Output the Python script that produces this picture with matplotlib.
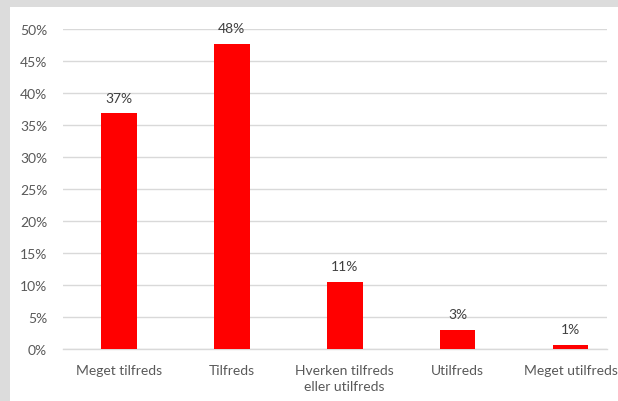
import matplotlib
matplotlib.use("Agg")
import matplotlib.pyplot as plt
from matplotlib.patches import Rectangle

categories = ["Meget tilfreds", "Tilfreds", "Hverken tilfreds\neller utilfreds", "Utilfreds", "Meget utilfreds"]
values = [36.8, 47.6, 10.4, 3.0, 0.7]
value_labels = ["37%", "48%", "11%", "3%", "1%"]
yticks = [0, 5, 10, 15, 20, 25, 30, 35, 40, 45, 50]
ytick_labels = [f"{t}%" for t in yticks]

plt.rcParams['font.family'] = ['Lato', 'DejaVu Sans']

W, H = 618, 402
fig = plt.figure(figsize=(W / 100, H / 100), dpi=100)
fig.patch.set_facecolor('#dcdcdc')
bg = Rectangle((10 / W, 0), 1 - 10 / W, (H - 8) / H, transform=fig.transFigure,
               facecolor='white', edgecolor='none', zorder=-10)
fig.add_artist(bg)

left_px, right_px = 62.5, 607
bottom_px, top_px = 350, 30
ax = fig.add_axes([left_px / W, (H - bottom_px) / H, (right_px - left_px) / W, (bottom_px - top_px) / H])
ax.set_facecolor('none')
ax.set_zorder(1)

cat_w = 112.9
x = list(range(len(categories)))
ax.bar(x, values, width=35.5 / cat_w, color='#ff0000', zorder=3)
ax.set_xlim(-0.5, -0.5 + (right_px - left_px) / cat_w)
ax.set_ylim(0, 50)

ax.set_yticks(yticks)
ax.set_yticklabels(ytick_labels)
ax.set_xticks(x)
ax.set_xticklabels(categories, linespacing=1.45)

ax.grid(axis='y', color='#d9d9d9', linewidth=1.0, zorder=0)
ax.set_axisbelow(True)
for s in ['top', 'right', 'left']:
    ax.spines[s].set_visible(False)
ax.spines['bottom'].set_color('#d9d9d9')
ax.spines['bottom'].set_linewidth(1.0)

ax.tick_params(axis='both', length=0, labelsize=10, labelcolor='#595959')
ax.tick_params(axis='y', pad=11)
ax.tick_params(axis='x', pad=10.5)
for lbl in ax.get_xticklabels():
    lbl.set_clip_on(False)

for xi, v, t in zip(x, values, value_labels):
    ax.annotate(t, (xi, v), xytext=(0, 11.5), textcoords='offset points',
                ha='center', va='center', fontsize=10, color='#404040')

fig.savefig('out.png', dpi=100, facecolor=fig.get_facecolor())
